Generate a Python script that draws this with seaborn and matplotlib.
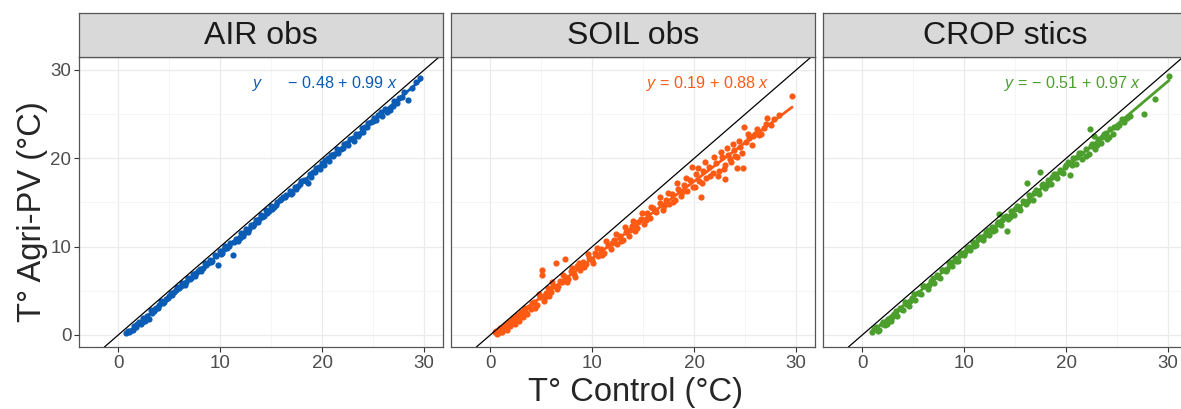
import numpy as np
import pandas as pd
import matplotlib
matplotlib.use("Agg")
import matplotlib.pyplot as plt
import seaborn as sns

# facet names, colours and fitted equations
panels = ["AIR obs", "SOIL obs", "CROP stics"]
colors = ["#0B5CB5", "#FF5A14", "#4C9F2C"]
equations = ["$y$      \u2212 0.48 + 0.99 $x$",
             "$y$ = 0.19 + 0.88 $x$",
             "$y$ = \u2212 0.51 + 0.97 $x$"]

# (T control, T agri-PV) pairs
air_pts = [
    (0.8, 0.2), (1.0, 0.5), (1.2, 0.4), (1.5, 1.0), (1.7, 0.9), (2.0, 1.5), (2.2, 1.3),
    (2.4, 1.9), (2.6, 1.6), (2.8, 2.2), (3.0, 1.8), (3.2, 2.8), (3.5, 2.7), (3.7, 3.1),
    (3.9, 3.0), (4.2, 3.8), (4.4, 3.6), (4.7, 4.1), (5.0, 4.4), (5.2, 4.8), (5.5, 4.9),
    (5.8, 5.4), (6.0, 5.3), (6.3, 5.9), (6.5, 5.7), (6.8, 6.4), (7.0, 6.3), (7.3, 6.9),
    (7.5, 6.7), (7.8, 7.3), (8.0, 7.5), (8.3, 7.6), (8.5, 8.1), (8.8, 8.2), (9.0, 8.5),
    (9.2, 8.4), (9.5, 9.0), (9.8, 7.9), (10.0, 9.5), (10.2, 9.3), (10.5, 10.1), (10.7, 9.9),
    (11.0, 10.4), (11.3, 9.1), (11.5, 10.9), (11.7, 10.6), (12.0, 11.5), (12.2, 11.2),
    (12.5, 12.0), (12.7, 11.7), (13.0, 12.4), (13.3, 12.6), (13.5, 13.0), (13.8, 13.1),
    (14.0, 13.6), (14.3, 13.5), (14.5, 14.1), (14.8, 14.0), (15.0, 14.6), (15.3, 14.5),
    (15.6, 15.0), (15.9, 15.3), (16.2, 15.6), (16.5, 15.9), (16.8, 16.3), (17.0, 16.1),
    (17.3, 16.8), (17.6, 16.9), (17.9, 17.4), (18.2, 17.6), (18.6, 17.2), (18.8, 18.2),
    (19.1, 18.5), (19.4, 18.9), (19.7, 19.0), (20.0, 19.5), (20.3, 19.8), (20.6, 20.0),
    (20.9, 20.4), (21.2, 20.5), (21.5, 21.0), (21.8, 21.1), (22.1, 21.6), (22.4, 21.7),
    (22.7, 22.2), (23.0, 22.3), (23.3, 22.8), (23.6, 22.8), (23.9, 23.4), (24.2, 23.5),
    (24.5, 24.0), (24.8, 24.1), (25.1, 24.6), (25.5, 24.9), (25.8, 25.3), (26.2, 25.6),
    (26.7, 25.5), (27.0, 26.5), (27.5, 26.8), (28.0, 27.5), (28.4, 26.6), (28.8, 28.0),
    (29.2, 28.6), (29.6, 29.1),
    (1.1, 0.3), (1.4, 0.6), (1.8, 1.2), (2.3, 1.5), (2.7, 1.9), (3.3, 2.5), (3.6, 2.9),
    (4.0, 3.4), (4.5, 3.7), (4.9, 4.2), (5.3, 4.5), (5.7, 5.1), (6.2, 5.5), (6.6, 6.0),
    (7.1, 6.5), (7.6, 7.0), (8.1, 7.3), (8.6, 7.9), (9.1, 8.3), (9.6, 8.9), (10.1, 9.2),
    (10.4, 9.7), (10.9, 10.1), (11.4, 10.5), (11.9, 11.0), (12.3, 11.6), (12.8, 12.0),
    (13.2, 12.3), (13.7, 12.8), (14.1, 13.4), (14.6, 13.8), (15.1, 14.3), (15.5, 14.7),
    (16.0, 15.4), (16.4, 15.6), (16.9, 16.0), (17.4, 16.5), (17.8, 17.1), (18.4, 17.4),
    (18.9, 17.9), (19.3, 18.4), (19.8, 18.8), (20.2, 19.3), (20.7, 19.7), (21.1, 20.3),
    (21.6, 20.6), (22.0, 21.2), (22.5, 21.5), (23.1, 22.0), (23.5, 22.5), (24.0, 23.0),
    (24.4, 23.6), (25.0, 24.2), (25.3, 24.3), (25.9, 24.8), (26.4, 25.3), (26.9, 25.9),
    (27.3, 26.3), (27.8, 26.9),
]

soil_pts = [
    (0.5, 0.3), (0.7, 0.1), (0.9, 0.6), (1.1, 0.4), (1.3, 0.9), (1.5, 0.7), (1.7, 1.3),
    (1.9, 1.0), (2.1, 1.6), (2.3, 1.4), (2.5, 2.0), (2.7, 1.8), (2.9, 2.4), (3.1, 2.1),
    (3.3, 2.8), (3.5, 2.5), (3.8, 3.2), (4.0, 2.9), (4.3, 3.7), (4.6, 3.4), (4.9, 4.3),
    (5.1, 7.4), (5.1, 6.8), (5.3, 3.9), (5.5, 4.8), (5.7, 5.3), (6.0, 4.9), (6.2, 5.6),
    (6.4, 8.2), (6.5, 5.2), (6.8, 6.1), (7.0, 6.0), (7.3, 8.6), (7.3, 6.6), (7.6, 6.3),
    (7.9, 7.2), (8.2, 6.9), (8.5, 7.8), (8.8, 7.4), (9.1, 8.3), (9.4, 8.0), (9.7, 8.7),
    (10.0, 8.5), (10.3, 9.3), (10.6, 8.9), (10.9, 9.7), (11.2, 9.3), (11.5, 10.2),
    (11.8, 9.7), (12.1, 10.7), (12.4, 10.3), (12.7, 11.2), (13.0, 10.8), (13.3, 11.7),
    (13.6, 11.2), (13.9, 12.3), (14.2, 11.8), (14.5, 12.8), (14.8, 13.1), (15.1, 12.6),
    (15.4, 13.8), (15.7, 13.3), (16.0, 14.4), (16.3, 13.9), (16.6, 14.9), (16.9, 14.2),
    (17.2, 15.3), (17.5, 14.8), (17.8, 16.0), (18.1, 15.3), (18.4, 16.5), (18.7, 15.7),
    (19.0, 17.0), (19.3, 16.3), (19.6, 17.6), (19.9, 16.8), (20.2, 18.2), (20.5, 17.4),
    (20.7, 15.6), (20.9, 18.6), (21.2, 17.8), (21.5, 19.0), (21.8, 18.3), (22.1, 19.5),
    (22.4, 18.6), (22.7, 20.1), (23.0, 17.7), (23.0, 19.2), (23.3, 20.4), (23.6, 19.6),
    (23.9, 20.9), (24.2, 18.9), (24.2, 20.1), (24.5, 21.3), (24.8, 18.9), (24.9, 23.6),
    (25.1, 21.8), (25.4, 22.3), (25.7, 21.5), (26.0, 22.8), (26.4, 22.6), (26.8, 23.4),
    (27.1, 24.6), (27.5, 23.8), (29.6, 27.0),
    (0.6, 0.5), (0.8, 0.2), (1.0, 0.8), (1.2, 0.3), (1.4, 1.1), (1.6, 0.6), (1.8, 1.5),
    (2.0, 1.2), (2.2, 1.9), (2.4, 1.2), (2.6, 2.3), (2.8, 1.6), (3.0, 2.6), (3.2, 2.0),
    (3.4, 3.0), (3.6, 2.4), (4.1, 3.6), (4.4, 3.0), (4.8, 4.6), (5.4, 4.3), (5.8, 4.4),
    (6.1, 6.0), (6.6, 5.6), (7.1, 6.8), (7.5, 6.0), (8.0, 7.6), (8.3, 6.6), (8.7, 8.2),
    (9.2, 7.7), (9.6, 9.2), (10.1, 8.2), (10.5, 9.8), (11.0, 9.1), (11.4, 10.6),
    (11.9, 10.4), (12.3, 11.4), (12.8, 10.6), (13.2, 12.2), (13.7, 11.9), (14.0, 12.9),
    (14.4, 12.1), (14.9, 13.8), (15.3, 13.0), (15.8, 14.5), (16.2, 14.0), (16.6, 15.6),
    (17.0, 14.6), (17.4, 16.1), (17.9, 15.1), (18.3, 17.2), (18.8, 16.2), (19.2, 17.8),
    (19.8, 19.0), (20.1, 16.8), (20.4, 18.9), (20.8, 17.2), (21.1, 19.6), (21.6, 18.0),
    (21.9, 20.2), (22.3, 18.0), (22.6, 20.7), (22.9, 18.8), (23.2, 21.2), (23.5, 19.9),
    (23.8, 21.6), (24.0, 20.3), (24.4, 22.0), (24.7, 20.6), (25.3, 22.7), (25.8, 22.5),
    (26.2, 23.3), (26.6, 22.8), (27.0, 23.9), (27.8, 24.4), (28.3, 24.9),
]

crop_pts = [
    (1.0, 0.3), (1.3, 0.9), (1.6, 0.6), (1.9, 1.3), (2.2, 1.1), (2.5, 1.8), (2.8, 1.6),
    (3.1, 2.4), (3.4, 2.1), (3.7, 3.0), (4.0, 2.8), (4.3, 3.5), (4.6, 3.3), (4.9, 4.2),
    (5.2, 4.0), (5.5, 4.8), (5.8, 4.6), (6.1, 5.5), (6.4, 5.2), (6.7, 6.1), (7.0, 5.9),
    (7.3, 6.8), (7.6, 6.5), (7.9, 7.4), (8.2, 7.3), (8.5, 8.1), (8.8, 7.8), (9.1, 8.7),
    (9.4, 8.4), (9.7, 9.3), (10.0, 9.1), (10.3, 9.9), (10.6, 9.6), (10.9, 10.5),
    (11.2, 10.2), (11.5, 11.1), (11.8, 10.7), (12.1, 11.7), (12.4, 11.3), (12.7, 12.2),
    (13.0, 11.9), (13.4, 13.7), (13.3, 12.8), (13.6, 12.4), (13.9, 13.4), (14.2, 11.8),
    (14.3, 13.1), (14.6, 14.0), (14.9, 13.6), (15.2, 14.6), (15.5, 14.1), (15.8, 15.2),
    (16.2, 17.2), (16.1, 14.8), (16.4, 15.8), (16.7, 15.3), (17.0, 16.4), (17.4, 18.5),
    (17.3, 16.0), (17.6, 17.0), (17.9, 16.6), (18.2, 17.6), (18.5, 17.1), (18.8, 18.2),
    (19.1, 17.8), (19.4, 18.7), (19.7, 18.3), (20.0, 19.3), (20.4, 18.1), (20.4, 19.5),
    (20.7, 20.0), (21.0, 19.4), (21.3, 20.6), (21.6, 19.9), (21.9, 21.0), (22.3, 23.3),
    (22.2, 20.5), (22.5, 21.6), (22.8, 21.1), (23.1, 22.2), (23.4, 21.7), (23.7, 22.8),
    (24.0, 22.2), (24.3, 23.3), (24.6, 22.8), (25.0, 23.5), (25.5, 24.4), (26.0, 24.6),
    (27.6, 25.0), (28.7, 26.7), (30.1, 29.3),
    (1.2, 0.7), (1.5, 0.4), (2.0, 1.5), (2.4, 1.2), (2.9, 2.0), (3.3, 2.7), (3.8, 2.9),
    (4.2, 3.7), (4.7, 3.8), (5.1, 4.6), (5.6, 4.7), (6.0, 5.6), (6.5, 5.7), (6.9, 6.4),
    (7.4, 6.6), (7.8, 7.4), (8.3, 7.5), (8.7, 8.3), (9.2, 8.4), (9.6, 9.1), (10.1, 9.4),
    (10.5, 10.0), (11.0, 10.1), (11.4, 10.9), (11.9, 11.2), (12.3, 11.9), (12.8, 11.8),
    (13.2, 12.6), (13.7, 13.0), (14.1, 13.5), (14.5, 13.4), (15.0, 14.3), (15.4, 14.5),
    (15.9, 15.0), (16.3, 15.2), (16.8, 16.1), (17.2, 16.3), (17.7, 17.1), (18.1, 17.0),
    (18.6, 17.9), (19.0, 18.2), (19.5, 18.5), (19.9, 19.0), (20.2, 19.6), (20.6, 19.3),
    (21.1, 20.2), (21.5, 20.6), (21.9, 20.3), (22.4, 21.4), (22.7, 22.5), (23.0, 21.5),
    (23.5, 22.4), (23.9, 22.9), (24.2, 22.4), (24.7, 23.5), (25.2, 23.8), (25.7, 24.1),
    (26.3, 24.8),
]

series = [air_pts, soil_pts, crop_pts]
df = pd.concat([pd.DataFrame(pts, columns=["control", "agripv"]).assign(panel=p)
                for p, pts in zip(panels, series)], ignore_index=True)

sns.set_style("white")
plt.rcParams["font.family"] = ["Liberation Sans", "DejaVu Sans"]
plt.rcParams["mathtext.fontset"] = "custom"
plt.rcParams["mathtext.rm"] = "Liberation Sans"
plt.rcParams["mathtext.it"] = "Liberation Sans:italic"
plt.rcParams["mathtext.bf"] = "Liberation Sans:bold"

fig = plt.figure(figsize=(11.81, 4.09), dpi=100)

W, H = 1181.0, 409.0
lefts = [79, 451, 823]
pw = 364
p_bot, p_top = 347, 57
s_top = 13

for i, (name, col, eq) in enumerate(zip(panels, colors, equations)):
    ax = fig.add_axes([lefts[i] / W, 1 - p_bot / H, pw / W, (p_bot - p_top) / H])
    sub = df[df["panel"] == name]
    sns.regplot(data=sub, x="control", y="agripv", ax=ax, ci=None, color=col,
                scatter_kws=dict(s=20, linewidths=0, alpha=1, zorder=3),
                line_kws=dict(lw=2.0, zorder=4))
    ax.axline((0, 0), slope=1, color="black", lw=0.9, zorder=5)
    ax.set_xlim(-3.85, 31.85)
    ax.set_ylim(-1.36, 31.47)
    ax.set_xticks([0, 10, 20, 30])
    ax.set_yticks([0, 10, 20, 30])
    ax.set_xticks([5, 15, 25], minor=True)
    ax.set_yticks([5, 15, 25], minor=True)
    ax.grid(True, which="major", color="#EBEBEB", lw=0.9, zorder=0)
    ax.grid(True, which="minor", color="#F4F4F4", lw=0.6, zorder=0)
    ax.set_axisbelow(True)
    ax.tick_params(which="major", length=3.5, width=0.8, color="#333333",
                   labelsize=13.5, labelcolor="#4D4D4D", pad=2,
                   bottom=True, left=(i == 0), labelleft=(i == 0))
    ax.tick_params(which="minor", length=0)
    for sp in ax.spines.values():
        sp.set_color("#555555")
        sp.set_linewidth(0.9)
    ax.set_xlabel("")
    ax.set_ylabel("")
    ax.text(27.4, 28.5, eq, color=col, fontsize=11.6, ha="right", va="center", zorder=6)

    sax = fig.add_axes([lefts[i] / W, 1 - p_top / H, pw / W, (p_top - s_top) / H])
    sax.set_facecolor("#D9D9D9")
    sax.set_xticks([])
    sax.set_yticks([])
    for sp in sax.spines.values():
        sp.set_color("#555555")
        sp.set_linewidth(0.9)
    sax.text(0.5, 0.47, name, transform=sax.transAxes, ha="center", va="center",
             fontsize=23, color="#1A1A1A")

fig.text(635 / W, 1 - 393 / H, "T° Control (°C)", ha="center", va="center", fontsize=23.5)
fig.text(33 / W, 1 - 212 / H, "T° Agri-PV (°C)", ha="center", va="center",
         rotation=90, fontsize=23.5)

fig.savefig("out.png", dpi=100)
